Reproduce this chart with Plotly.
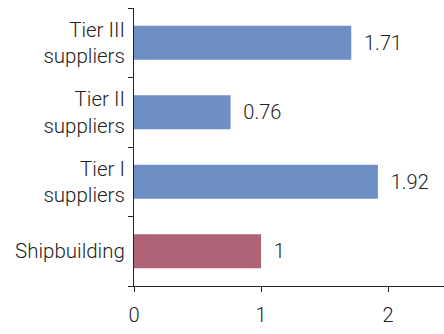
import plotly.graph_objects as go

categories = ["Shipbuilding", "Tier I<br>suppliers", "Tier II<br>suppliers", "Tier III<br>suppliers"]
values = [1, 1.92, 0.76, 1.71]
labels = ["1", "1.92", "0.76", "1.71"]
colors = ["#b06277", "#6f8fc4", "#6f8fc4", "#6f8fc4"]

fig = go.Figure(go.Bar(
    y=categories, x=values, orientation="h",
    marker=dict(color=colors, line=dict(width=0)),
    text=["\u00a0\u00a0" + t for t in labels], textposition="outside", cliponaxis=False,
    textfont=dict(size=20, color="#222", family="Roboto", weight=300),
    width=0.49,
))
fig.update_layout(
    width=444, height=334,
    margin=dict(l=134, r=0, t=8, b=48),
    paper_bgcolor="white", plot_bgcolor="white",
    font=dict(family="Roboto", size=20, color="#222", weight=300),
    showlegend=False,
)
fig.update_xaxes(range=[0, 2.44], tickvals=[0, 1, 2], showgrid=False, zeroline=False,
                 showline=True, linecolor="#222", linewidth=1,
                 ticks="outside", ticklen=5, tickcolor="#222",
                 tickfont=dict(size=20, weight=300), ticklabelstandoff=6)
fig.update_yaxes(showgrid=False, showline=True, linecolor="#222", linewidth=1,
                 ticks="outside", ticklen=5, tickcolor="#222", tickson="boundaries",
                 tickfont=dict(size=20.5, weight=300), ticklabelstandoff=4)
fig.write_html("out.html")
